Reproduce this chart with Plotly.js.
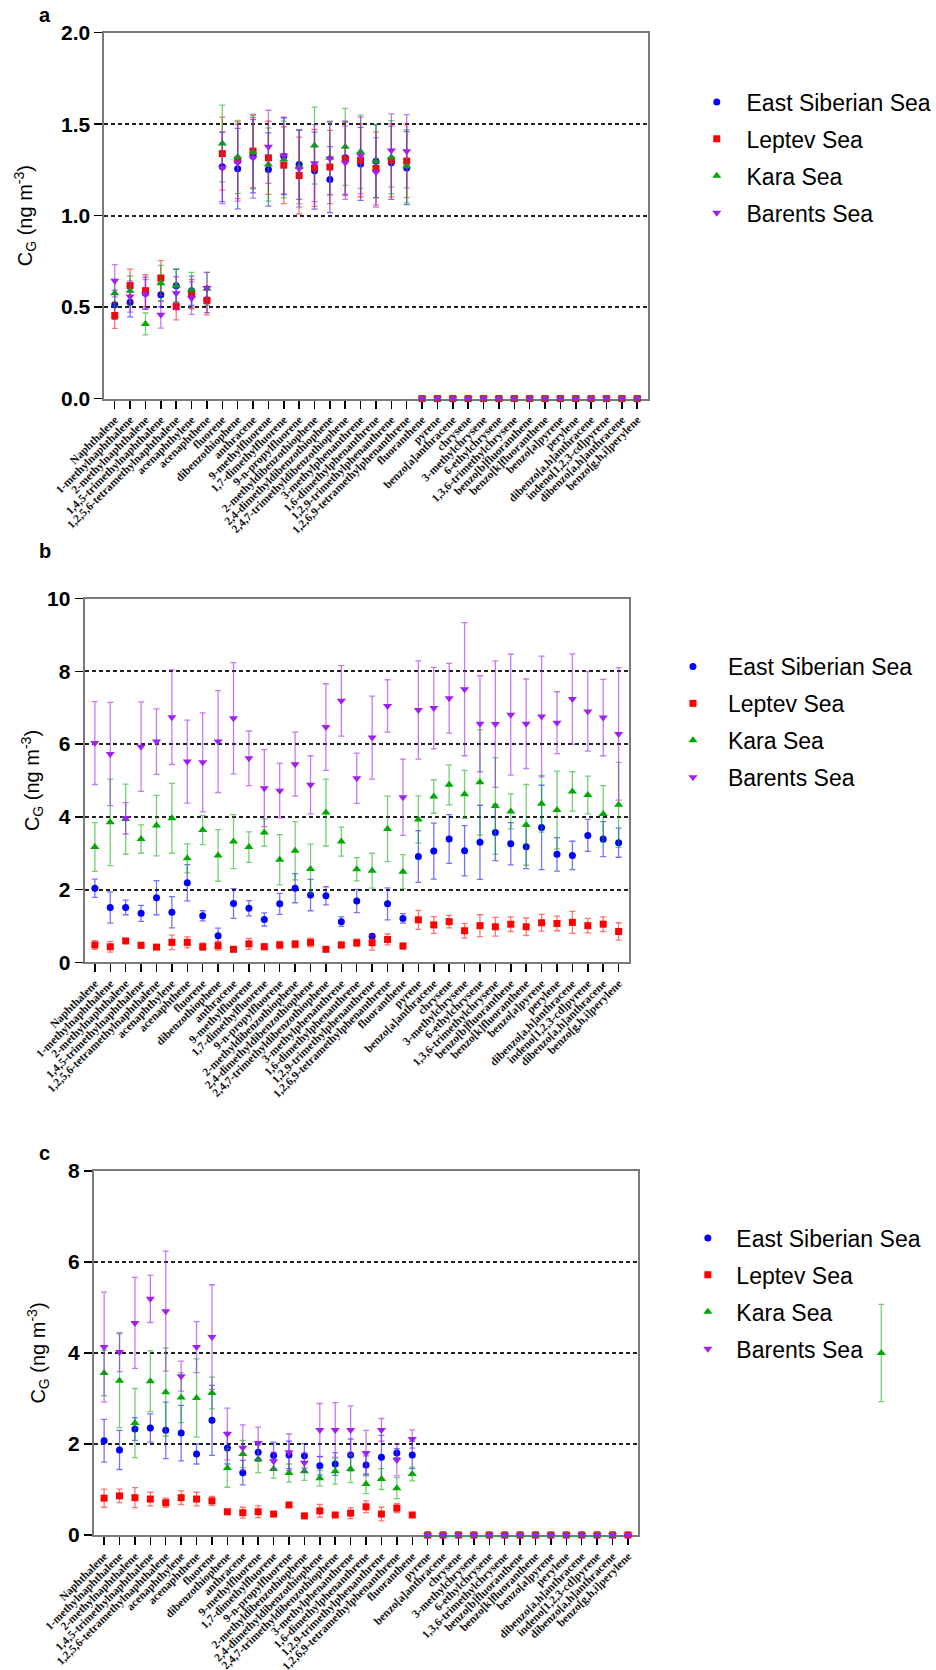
<!DOCTYPE html>
<html>
<head>
<meta charset="utf-8">
<script src="https://cdn.plot.ly/plotly-3.0.1.min.js"></script>
<style>
  html, body { margin: 0; padding: 0; background: #ffffff; }
  #chart { width: 936px; height: 1670px; }
</style>
</head>
<body>
<div id="chart"></div>
<script>
// ---------------- DATA ----------------
const categories = ["Naphthalene","1-methylnaphthalene","2-methylnaphthalene","1,4,5-trimethylnaphthalene","1,2,5,6-tetramethylnaphthalene","acenaphthylene","acenaphthene","fluorene","dibenzothiophene","anthracene","9-methylfluorene","1,7-dimethylfluorene","9-n-propylfluorene","2-methyldibenzothiophene","2,4-dimethyldibenzothiophene","2,4,7-trimethyldibenzothiophene","3-methylphenanthrene","1,6-dimethylphenanthrene","1,2,9-trimethylphenanthrene","1,2,6,9-tetramethylphenanthrene","fluoranthene","pyrene","benzo[a]anthracene","chrysene","3-methylchrysene","6-ethylchrysene","1,3,6-trimethylchrysene","benzo[b]fluoranthene","benzo[k]fluoranthene","benzo[a]pyrene","perylene","dibenzo[a,h]anthracene","indeno[1,2,3-cd]pyrene","dibenzo[a,h]anthracene","benzo[g,h,i]perylene"];

const seriesNames = ["East Siberian Sea","Leptev Sea","Kara Sea","Barents Sea"];

// Panel a
const aESS    = [0.513,0.527,0.576,0.567,0.617,0.589,0.540,1.267,1.257,1.325,1.252,1.325,1.279,1.246,1.197,1.316,1.283,1.298,1.289,1.260,0,0,0,0,0,0,0,0,0,0,0,0,0,0,0];
const aESSerr = [0.080,0.080,0.088,0.065,0.090,0.080,0.070,0.190,0.220,0.200,0.200,0.210,0.190,0.210,0.180,0.200,0.200,0.200,0.200,0.200,0,0,0,0,0,0,0,0,0,0,0,0,0,0,0];
const aLS     = [0.454,0.618,0.590,0.659,0.503,0.571,0.536,1.339,1.303,1.353,1.316,1.276,1.219,1.261,1.266,1.310,1.302,1.258,1.303,1.298,0,0,0,0,0,0,0,0,0,0,0,0,0,0,0];
const aLSerr  = [0.070,0.090,0.087,0.095,0.073,0.080,0.078,0.200,0.210,0.200,0.200,0.210,0.210,0.210,0.200,0.200,0.200,0.200,0.200,0.200,0,0,0,0,0,0,0,0,0,0,0,0,0,0,0];
const aKS     = [0.576,0.590,0.408,0.631,0.617,0.594,0.600,1.394,1.321,1.347,1.279,1.307,1.266,1.383,1.316,1.376,1.349,1.298,1.319,1.270,0,0,0,0,0,0,0,0,0,0,0,0,0,0,0];
const aKSerr  = [0.070,0.080,0.060,0.097,0.090,0.096,0.090,0.210,0.200,0.200,0.200,0.210,0.200,0.210,0.200,0.210,0.200,0.200,0.200,0.200,0,0,0,0,0,0,0,0,0,0,0,0,0,0,0];
const aBS     = [0.644,0.558,0.571,0.458,0.576,0.549,0.604,1.261,1.289,1.316,1.376,1.329,1.257,1.287,1.312,1.289,1.329,1.237,1.356,1.352,0,0,0,0,0,0,0,0,0,0,0,0,0,0,0];
const aBSerr  = [0.088,0.085,0.080,0.073,0.090,0.089,0.086,0.195,0.210,0.220,0.200,0.210,0.210,0.210,0.200,0.200,0.210,0.190,0.200,0.200,0,0,0,0,0,0,0,0,0,0,0,0,0,0,0];

// Panel b
const bESS    = [2.04,1.51,1.51,1.35,1.78,1.38,2.19,1.28,0.73,1.62,1.49,1.18,1.61,2.04,1.85,1.83,1.12,1.69,0.72,1.61,1.21,2.91,3.06,3.39,3.07,3.30,3.57,3.26,3.18,3.71,2.97,2.94,3.49,3.39,3.29];
const bESSerr = [0.25,0.43,0.20,0.22,0.47,0.43,0.50,0.14,0.21,0.41,0.21,0.18,0.29,0.40,0.43,0.25,0.13,0.32,0.05,0.44,0.13,0.71,0.77,0.67,0.69,1.02,0.77,0.58,0.60,1.16,0.46,0.39,0.44,0.48,0.40];
const bLS     = [0.48,0.43,0.59,0.47,0.42,0.55,0.55,0.43,0.46,0.36,0.51,0.43,0.48,0.50,0.55,0.36,0.48,0.54,0.54,0.63,0.45,1.17,1.03,1.12,0.87,1.01,0.98,1.05,0.98,1.09,1.07,1.10,1.01,1.05,0.85];
const bLSerr  = [0.12,0.15,0.06,0.08,0.06,0.20,0.15,0.10,0.12,0.06,0.15,0.08,0.10,0.10,0.12,0.06,0.08,0.10,0.20,0.15,0.08,0.26,0.23,0.17,0.20,0.30,0.26,0.20,0.24,0.23,0.20,0.30,0.20,0.20,0.24];
const bKS     = [3.17,3.85,3.94,3.39,3.76,3.96,2.86,3.64,2.94,3.32,3.17,3.57,2.82,3.07,2.57,4.12,3.32,2.56,2.52,3.67,2.49,3.93,4.56,4.88,4.62,4.95,4.30,4.15,3.78,4.36,4.19,4.70,4.60,4.08,4.33];
const bKSerr  = [0.67,1.19,0.96,0.39,0.83,0.96,0.40,0.40,0.71,0.74,0.42,0.37,0.69,0.80,0.68,0.92,0.40,0.32,0.48,0.90,0.47,0.65,0.46,0.55,0.66,1.45,1.33,0.48,1.11,0.78,1.07,0.54,0.52,0.78,1.17];
const bBS     = [6.03,5.73,3.96,5.93,6.07,6.74,5.52,5.50,6.07,6.71,5.61,4.79,4.72,5.45,4.88,6.47,7.19,5.06,6.18,7.05,4.54,6.94,6.99,7.26,7.51,6.56,6.55,6.81,6.56,6.76,6.59,7.24,6.90,6.73,6.28];
const bBSerr  = [1.14,1.42,0.43,1.23,0.90,1.30,1.14,1.36,1.40,1.53,0.75,1.06,0.75,0.88,0.80,1.19,0.97,0.69,1.14,0.72,1.05,1.35,1.12,0.96,1.83,1.32,1.74,1.66,1.23,1.66,0.85,1.24,1.09,1.05,1.82];

// Panel c
const cESS    = [2.07,1.87,2.33,2.35,2.30,2.24,1.78,2.52,1.91,1.37,1.82,1.75,1.76,1.74,1.52,1.56,1.76,1.54,1.71,1.80,1.76,0,0,0,0,0,0,0,0,0,0,0,0,0,0];
const cESSerr = [0.47,0.43,0.25,0.31,0.62,0.61,0.22,0.77,0.35,0.27,0.20,0.29,0.30,0.27,0.20,0.25,0.35,0.20,0.48,0.10,0.30,0,0,0,0,0,0,0,0,0,0,0,0,0,0];
const cLS     = [0.81,0.86,0.82,0.79,0.71,0.82,0.79,0.75,0.51,0.49,0.51,0.46,0.66,0.42,0.53,0.44,0.48,0.62,0.46,0.59,0.44,0,0,0,0,0,0,0,0,0,0,0,0,0,0];
const cLSerr  = [0.20,0.15,0.22,0.15,0.10,0.15,0.15,0.10,0.05,0.12,0.13,0.05,0.05,0.05,0.14,0.05,0.12,0.13,0.15,0.10,0.05,0,0,0,0,0,0,0,0,0,0,0,0,0,0];
const cKS     = [3.56,3.39,2.46,3.38,3.14,3.02,3.01,3.12,1.47,1.78,1.67,1.45,1.36,1.40,1.25,1.40,1.45,1.12,1.23,1.03,1.34,0,0,0,0,0,0,0,0,0,0,0,0,0,null];
const cKSerr  = [0.50,1.03,0.76,0.67,0.97,0.55,0.86,0.35,0.42,0.30,0.30,0.20,0.20,0.20,0.17,0.28,0.30,0.21,0.23,0.23,0.15,0,0,0,0,0,0,0,0,0,0,0,0,0,0];
const cBS     = [4.13,4.02,4.66,5.19,4.92,3.49,4.13,4.35,2.22,1.92,2.02,1.62,1.82,1.59,2.31,2.31,2.31,1.80,2.31,1.65,2.11,0,0,0,0,0,0,0,0,0,0,0,0,0,0];
const cBSerr  = [1.21,0.43,1.00,0.52,1.32,0.33,0.56,1.15,0.57,0.50,0.35,0.20,0.40,0.20,0.58,0.60,0.53,0.50,0.25,0.35,0.20,0,0,0,0,0,0,0,0,0,0,0,0,0,0];
// Kara Sea, benzo[g,h,i]perylene in panel c: drawn detached, right of the plot
const cKSextra    = [4.0];
const cKSextraErr = [1.07];

// ---------------- STYLE ----------------
const W = 936, H = 1670;
const colors  = ["#0000ff","#ff0000","#00aa00","#a020f0"];
const ecolors = ["rgba(0,0,255,0.55)","rgba(255,0,0,0.55)","rgba(0,170,0,0.55)","rgba(160,32,240,0.6)"];
const symbols = ["circle","square","triangle-up","triangle-down"];
const msize   = [7,7,8,8];
const idx = categories.map((c, i) => i);
const px = v => v / W;
const py = v => 1 - v / H;

const panels = [
  {key:"a", data:[[aESS,aESSerr],[aLS,aLSerr],[aKS,aKSerr],[aBS,aBSerr]], xa:"x", ya:"y", legend:"legend"},
  {key:"b", data:[[bESS,bESSerr],[bLS,bLSerr],[bKS,bKSerr],[bBS,bBSerr]], xa:"x2", ya:"y2", legend:"legend2"},
  {key:"c", data:[[cESS,cESSerr],[cLS,cLSerr],[cKS,cKSerr],[cBS,cBSerr]], xa:"x3", ya:"y3", legend:"legend3"}
];

const traces = [];
panels.forEach(p => {
  p.data.forEach((d, s) => {
    traces.push({
      type: "scatter", mode: "markers",
      x: idx, y: d[0],
      name: seriesNames[s],
      xaxis: p.xa, yaxis: p.ya,
      legend: p.legend, legendgroup: p.key + s,
      cliponaxis: false,
      marker: {symbol: symbols[s], size: msize[s], color: colors[s], line: {width: 0}},
      error_y: {type: "data", array: d[1], visible: true, color: ecolors[s], thickness: 1.3, width: 3}
    });
  });
});
traces.push({
  type: "scatter", mode: "markers", x: [0], y: cKSextra,
  xaxis: "x4", yaxis: "y4", showlegend: false, cliponaxis: false,
  marker: {symbol: symbols[2], size: msize[2], color: colors[2]},
  error_y: {type: "data", array: cKSextraErr, visible: true, color: ecolors[2], thickness: 1.3, width: 3}
});

const tickFontY = {family: "Liberation Sans, Arial, sans-serif", size: 21, color: "#000", weight: "bold"};
const tickFontX = {family: "Liberation Serif, Times New Roman, serif", size: 11.5, color: "#111", weight: "bold"};
function ytitle(standoff) {
  return {text: "C<sub>G</sub> (ng m<sup>-3</sup>)", font: {family: "Liberation Sans, Arial, sans-serif", size: 20, color: "#000"}, standoff: standoff};
}

function xaxis(l, r) {
  return {
    domain: [px(l), px(r)], range: [-0.67, 34.67],
    tickmode: "array", tickvals: idx, ticktext: categories, tickangle: -45,
    tickfont: tickFontX, ticks: "outside", ticklen: 8, tickwidth: 1.5, tickcolor: "#000",
    showline: true, mirror: true, linecolor: "#7a7a7a", linewidth: 2,
    showgrid: false, zeroline: false, layer: "below traces", fixedrange: true
  };
}
function yaxis(t, b, max, dtick, fmt, standoff) {
  return {
    domain: [py(b), py(t)], range: [0, max], dtick: dtick, tick0: 0, tickformat: fmt,
    tickfont: tickFontY, ticks: "outside", ticklen: 8, tickwidth: 1.5, tickcolor: "#000",
    showline: true, mirror: true, linecolor: "#7a7a7a", linewidth: 2,
    showgrid: true, gridcolor: "#222", gridwidth: 1.8, griddash: "4px,3px",
    zeroline: false, title: ytitle(standoff), layer: "below traces", fixedrange: true
  };
}
function legend(x, y, itemwidth) {
  return {
    x: px(x), y: py(y), xanchor: "left", yanchor: "top",
    font: {family: "Liberation Sans, Arial, sans-serif", size: 23, color: "#000"},
    bgcolor: "rgba(0,0,0,0)", borderwidth: 0, traceorder: "grouped",
    tracegroupgap: 4, itemwidth: itemwidth, itemclick: false, itemdoubleclick: false
  };
}
function panelLabel(t, x, y) {
  return {text: t, x: px(x), y: py(y), xref: "paper", yref: "paper", xanchor: "center", yanchor: "middle",
          showarrow: false, font: {family: "Liberation Sans, Arial, sans-serif", size: 20, weight: "bold", color: "#000"}};
}

const layout = {
  width: W, height: H,
  margin: {l: 0, r: 0, t: 0, b: 0},
  paper_bgcolor: "#fff", plot_bgcolor: "#fff",
  showlegend: true,
  xaxis:  Object.assign(xaxis(105, 651), {anchor: "y"}),
  yaxis:  Object.assign(yaxis(32.7, 398.6, 2, 0.5, ".1f", 23), {anchor: "x"}),
  xaxis2: Object.assign(xaxis(85, 632.3), {anchor: "y2"}),
  yaxis2: Object.assign(yaxis(598.6, 962.4, 10, 2, "d", 2), {anchor: "x2"}),
  xaxis3: Object.assign(xaxis(94.3, 641.7), {anchor: "y3"}),
  yaxis3: Object.assign(yaxis(1171, 1535, 8, 2, "d", 17), {anchor: "x3"}),
  xaxis4: {domain: [px(876), px(896)], range: [-0.5, 0.5], visible: false, anchor: "y4", fixedrange: true},
  yaxis4: {domain: [py(1535), py(1171)], range: [0, 8], visible: false, anchor: "x4", fixedrange: true},
  legend:  legend(691, 80.5, 49.5),
  legend2: legend(661.5, 645, 60),
  legend3: legend(683, 1216.5, 47),
  annotations: [panelLabel("a", 45, 15), panelLabel("b", 45, 551), panelLabel("c", 45, 1153)]
};

Plotly.newPlot("chart", traces, layout, {staticPlot: true, displayModeBar: false});
</script>
</body>
</html>
